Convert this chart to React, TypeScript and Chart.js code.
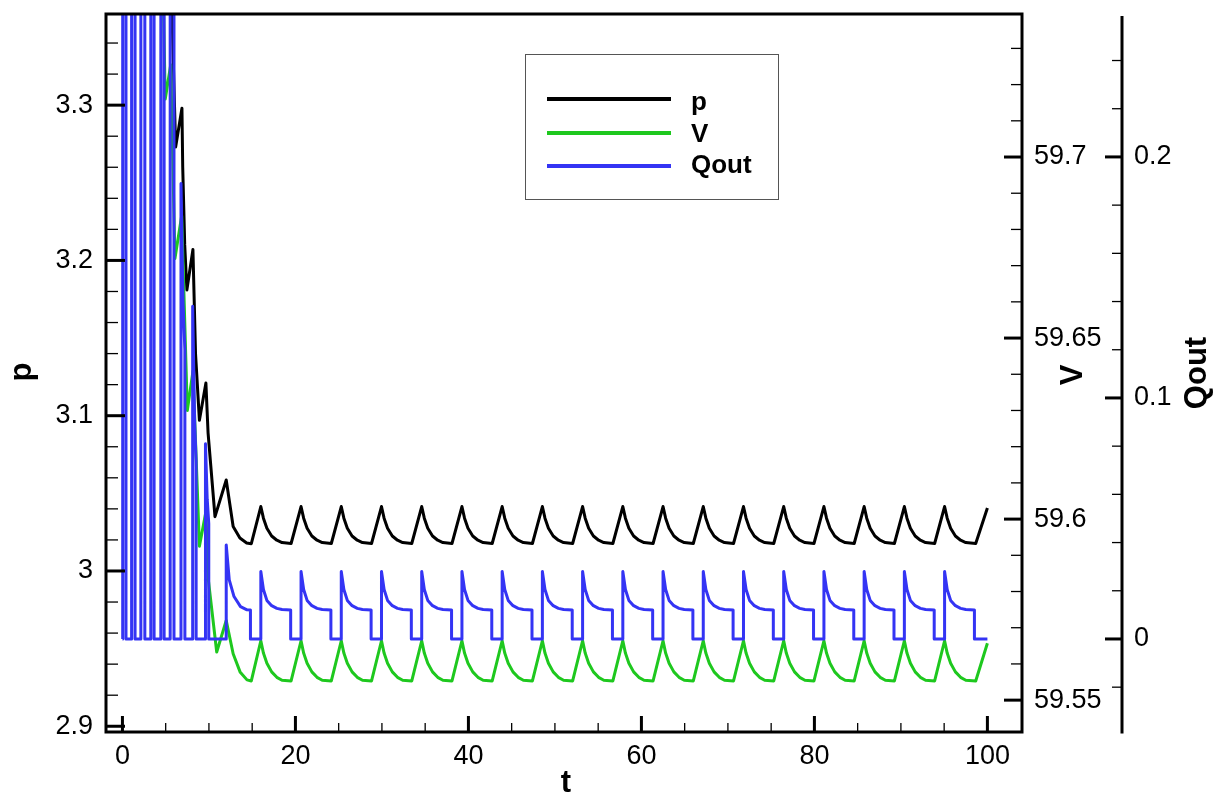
import React, { useEffect, useRef } from 'react';
import { Chart, registerables } from 'chart.js';

Chart.register(...registerables);

const FONT = '"Liberation Sans", Arial, Helvetica, sans-serif';

// ---------- axis ticks ----------
const tTicks = [0, 20, 40, 60, 80, 100];
const pTicks = [2.9, 3.0, 3.1, 3.2, 3.3];
const vTicks = [59.55, 59.6, 59.65, 59.7];
const qTicks = [0, 0.1, 0.2];
const tMinorStep = 5;
const pMinorStep = 0.02;
const vMinorStep = 0.01;
const qMinorStep = 0.02;

const seriesLabels = ['p', 'V', 'Qout'];

// ---------- start-up transient ----------
const tTransP = [0, 0.08, 0.45, 1.12, 1.55, 2.2, 2.65, 3.35, 3.75, 4.51, 4.95, 5.58, 6.15, 6.88, 6.97, 7.2, 7.45, 8.15, 8.45, 8.9, 9.65, 9.9, 10.7, 12.0, 12.8, 13.58, 14.36, 14.9];
const pTrans = [3.8, 3.84, 3.72, 3.75, 3.63, 3.66, 3.54, 3.57, 3.45, 3.48, 3.365, 3.39, 3.273, 3.298, 3.26, 3.21, 3.181, 3.207, 3.14, 3.097, 3.121, 3.089, 3.035, 3.0586, 3.0286, 3.0212, 3.018, 3.0176];

const tTransV = [0, 0.08, 0.45, 1.12, 1.55, 2.2, 2.65, 3.35, 3.75, 4.51, 4.95, 5.58, 6.07, 6.85, 7.5, 8.15, 8.9, 9.65, 9.92, 10.9, 12.0, 12.8, 13.6, 14.4, 14.9];
const vTrans = [59.94, 59.95, 59.895, 59.905, 59.85, 59.86, 59.805, 59.815, 59.76, 59.77, 59.716, 59.7255, 59.672, 59.6838, 59.63, 59.6408, 59.5925, 59.602, 59.5835, 59.5633, 59.572, 59.5628, 59.5578, 59.5556, 59.5553];

const tTransQ = [0, 0.03, 0.03, 0.41, 0.41, 1.06, 1.06, 1.46, 1.46, 2.13, 2.13, 2.59, 2.59, 3.28, 3.28, 3.66, 3.66, 4.44, 4.44, 4.82, 4.82, 5.52, 5.52, 5.96, 5.96, 6.77, 6.77, 7.0, 7.22, 7.22, 8.12, 8.12, 8.35, 8.52, 8.52, 9.6, 9.6, 9.8, 9.98, 9.98, 12.0, 12.0, 12.35, 12.9, 13.65, 14.4, 14.8, 14.8];
const qTrans = [0, 0, 0.95, 0.85, 0, 0, 0.85, 0.75, 0, 0, 0.75, 0.65, 0, 0, 0.6, 0.5, 0, 0, 0.45, 0.38, 0, 0, 0.33, 0.28, 0, 0, 0.189, 0.14, 0.12, 0, 0, 0.138, 0.09, 0.074, 0, 0, 0.081, 0.058, 0.048, 0, 0, 0.039, 0.0245, 0.0176, 0.0134, 0.0121, 0.012, 0];

// ---------- periodic regime ----------
const tCycPV = [
  16.0, 16.3, 16.7, 17.25, 17.85, 18.45, 19.5,
  20.65, 20.95, 21.35, 21.9, 22.5, 23.1, 24.15,
  25.3, 25.6, 26.0, 26.55, 27.15, 27.75, 28.8,
  29.95, 30.25, 30.65, 31.2, 31.8, 32.4, 33.45,
  34.6, 34.9, 35.3, 35.85, 36.45, 37.05, 38.1,
  39.25, 39.55, 39.95, 40.5, 41.1, 41.7, 42.75,
  43.9, 44.2, 44.6, 45.15, 45.75, 46.35, 47.4,
  48.55, 48.85, 49.25, 49.8, 50.4, 51.0, 52.05,
  53.2, 53.5, 53.9, 54.45, 55.05, 55.65, 56.7,
  57.85, 58.15, 58.55, 59.1, 59.7, 60.3, 61.35,
  62.5, 62.8, 63.2, 63.75, 64.35, 64.95, 66.0,
  67.15, 67.45, 67.85, 68.4, 69.0, 69.6, 70.65,
  71.8, 72.1, 72.5, 73.05, 73.65, 74.25, 75.3,
  76.45, 76.75, 77.15, 77.7, 78.3, 78.9, 79.95,
  81.1, 81.4, 81.8, 82.35, 82.95, 83.55, 84.6,
  85.75, 86.05, 86.45, 87.0, 87.6, 88.2, 89.25,
  90.4, 90.7, 91.1, 91.65, 92.25, 92.85, 93.9,
  95.05, 95.35, 95.75, 96.3, 96.9, 97.5, 98.65,
  100.0,
];
const pCyc = [
  3.0415, 3.034, 3.0275, 3.0225, 3.0198, 3.0183, 3.0177,
  3.0415, 3.034, 3.0275, 3.0225, 3.0198, 3.0183, 3.0177,
  3.0415, 3.034, 3.0275, 3.0225, 3.0198, 3.0183, 3.0177,
  3.0415, 3.034, 3.0275, 3.0225, 3.0198, 3.0183, 3.0177,
  3.0415, 3.034, 3.0275, 3.0225, 3.0198, 3.0183, 3.0177,
  3.0415, 3.034, 3.0275, 3.0225, 3.0198, 3.0183, 3.0177,
  3.0415, 3.034, 3.0275, 3.0225, 3.0198, 3.0183, 3.0177,
  3.0415, 3.034, 3.0275, 3.0225, 3.0198, 3.0183, 3.0177,
  3.0415, 3.034, 3.0275, 3.0225, 3.0198, 3.0183, 3.0177,
  3.0415, 3.034, 3.0275, 3.0225, 3.0198, 3.0183, 3.0177,
  3.0415, 3.034, 3.0275, 3.0225, 3.0198, 3.0183, 3.0177,
  3.0415, 3.034, 3.0275, 3.0225, 3.0198, 3.0183, 3.0177,
  3.0415, 3.034, 3.0275, 3.0225, 3.0198, 3.0183, 3.0177,
  3.0415, 3.034, 3.0275, 3.0225, 3.0198, 3.0183, 3.0177,
  3.0415, 3.034, 3.0275, 3.0225, 3.0198, 3.0183, 3.0177,
  3.0415, 3.034, 3.0275, 3.0225, 3.0198, 3.0183, 3.0177,
  3.0415, 3.034, 3.0275, 3.0225, 3.0198, 3.0183, 3.0177,
  3.0415, 3.034, 3.0275, 3.0225, 3.0198, 3.0183, 3.0177,
  3.0405,
];
const vCyc = [
  59.5664, 59.563, 59.5602, 59.5578, 59.5563, 59.5555, 59.5553,
  59.5664, 59.563, 59.5602, 59.5578, 59.5563, 59.5555, 59.5553,
  59.5664, 59.563, 59.5602, 59.5578, 59.5563, 59.5555, 59.5553,
  59.5664, 59.563, 59.5602, 59.5578, 59.5563, 59.5555, 59.5553,
  59.5664, 59.563, 59.5602, 59.5578, 59.5563, 59.5555, 59.5553,
  59.5664, 59.563, 59.5602, 59.5578, 59.5563, 59.5555, 59.5553,
  59.5664, 59.563, 59.5602, 59.5578, 59.5563, 59.5555, 59.5553,
  59.5664, 59.563, 59.5602, 59.5578, 59.5563, 59.5555, 59.5553,
  59.5664, 59.563, 59.5602, 59.5578, 59.5563, 59.5555, 59.5553,
  59.5664, 59.563, 59.5602, 59.5578, 59.5563, 59.5555, 59.5553,
  59.5664, 59.563, 59.5602, 59.5578, 59.5563, 59.5555, 59.5553,
  59.5664, 59.563, 59.5602, 59.5578, 59.5563, 59.5555, 59.5553,
  59.5664, 59.563, 59.5602, 59.5578, 59.5563, 59.5555, 59.5553,
  59.5664, 59.563, 59.5602, 59.5578, 59.5563, 59.5555, 59.5553,
  59.5664, 59.563, 59.5602, 59.5578, 59.5563, 59.5555, 59.5553,
  59.5664, 59.563, 59.5602, 59.5578, 59.5563, 59.5555, 59.5553,
  59.5664, 59.563, 59.5602, 59.5578, 59.5563, 59.5555, 59.5553,
  59.5664, 59.563, 59.5602, 59.5578, 59.5563, 59.5555, 59.5553,
  59.5657,
];
const tCycQ = [
  16.0, 16.0, 16.3, 16.7, 17.25, 17.85, 18.45, 19.45, 19.45,
  20.65, 20.65, 20.95, 21.35, 21.9, 22.5, 23.1, 24.1, 24.1,
  25.3, 25.3, 25.6, 26.0, 26.55, 27.15, 27.75, 28.75, 28.75,
  29.95, 29.95, 30.25, 30.65, 31.2, 31.8, 32.4, 33.4, 33.4,
  34.6, 34.6, 34.9, 35.3, 35.85, 36.45, 37.05, 38.05, 38.05,
  39.25, 39.25, 39.55, 39.95, 40.5, 41.1, 41.7, 42.7, 42.7,
  43.9, 43.9, 44.2, 44.6, 45.15, 45.75, 46.35, 47.35, 47.35,
  48.55, 48.55, 48.85, 49.25, 49.8, 50.4, 51.0, 52.0, 52.0,
  53.2, 53.2, 53.5, 53.9, 54.45, 55.05, 55.65, 56.65, 56.65,
  57.85, 57.85, 58.15, 58.55, 59.1, 59.7, 60.3, 61.3, 61.3,
  62.5, 62.5, 62.8, 63.2, 63.75, 64.35, 64.95, 65.95, 65.95,
  67.15, 67.15, 67.45, 67.85, 68.4, 69.0, 69.6, 70.6, 70.6,
  71.8, 71.8, 72.1, 72.5, 73.05, 73.65, 74.25, 75.25, 75.25,
  76.45, 76.45, 76.75, 77.15, 77.7, 78.3, 78.9, 79.9, 79.9,
  81.1, 81.1, 81.4, 81.8, 82.35, 82.95, 83.55, 84.55, 84.55,
  85.75, 85.75, 86.05, 86.45, 87.0, 87.6, 88.2, 89.2, 89.2,
  90.4, 90.4, 90.7, 91.1, 91.65, 92.25, 92.85, 93.85, 93.85,
  95.05, 95.05, 95.35, 95.75, 96.3, 96.9, 97.5, 98.5, 98.5,
  100.0,
];
const qCyc = [
  0, 0.028, 0.0205, 0.016, 0.0138, 0.0127, 0.0122, 0.012, 0,
  0, 0.028, 0.0205, 0.016, 0.0138, 0.0127, 0.0122, 0.012, 0,
  0, 0.028, 0.0205, 0.016, 0.0138, 0.0127, 0.0122, 0.012, 0,
  0, 0.028, 0.0205, 0.016, 0.0138, 0.0127, 0.0122, 0.012, 0,
  0, 0.028, 0.0205, 0.016, 0.0138, 0.0127, 0.0122, 0.012, 0,
  0, 0.028, 0.0205, 0.016, 0.0138, 0.0127, 0.0122, 0.012, 0,
  0, 0.028, 0.0205, 0.016, 0.0138, 0.0127, 0.0122, 0.012, 0,
  0, 0.028, 0.0205, 0.016, 0.0138, 0.0127, 0.0122, 0.012, 0,
  0, 0.028, 0.0205, 0.016, 0.0138, 0.0127, 0.0122, 0.012, 0,
  0, 0.028, 0.0205, 0.016, 0.0138, 0.0127, 0.0122, 0.012, 0,
  0, 0.028, 0.0205, 0.016, 0.0138, 0.0127, 0.0122, 0.012, 0,
  0, 0.028, 0.0205, 0.016, 0.0138, 0.0127, 0.0122, 0.012, 0,
  0, 0.028, 0.0205, 0.016, 0.0138, 0.0127, 0.0122, 0.012, 0,
  0, 0.028, 0.0205, 0.016, 0.0138, 0.0127, 0.0122, 0.012, 0,
  0, 0.028, 0.0205, 0.016, 0.0138, 0.0127, 0.0122, 0.012, 0,
  0, 0.028, 0.0205, 0.016, 0.0138, 0.0127, 0.0122, 0.012, 0,
  0, 0.028, 0.0205, 0.016, 0.0138, 0.0127, 0.0122, 0.012, 0,
  0, 0.028, 0.0205, 0.016, 0.0138, 0.0127, 0.0122, 0.012, 0,
  0,
];

function zip(xs: number[], ys: number[]) {
  const n = Math.min(xs.length, ys.length);
  const out: { x: number; y: number }[] = [];
  for (let i = 0; i < n; i++) out.push({ x: xs[i], y: ys[i] });
  return out;
}

const fmt = (v: number) => String(+Number(v).toFixed(4));

function minorValues(scale: any, step: number, majors: number[]) {
  const out: number[] = [];
  const k0 = Math.ceil(scale.min / step - 1e-6);
  const k1 = Math.floor(scale.max / step + 1e-6);
  for (let k = k0; k <= k1; k++) {
    const v = k * step;
    if (!majors.some((m) => Math.abs(m - v) < step / 10)) out.push(v);
  }
  return out;
}

const decor = {
  id: 'decor',
  afterDatasetsDraw(chart: any) {
    const { ctx, chartArea: a, scales } = chart;
    const sx = scales.x, sp = scales.p, sv = scales.v, sq = scales.q;
    ctx.save();
    ctx.strokeStyle = '#000';
    ctx.lineCap = 'butt';
    const hTick = (x0: number, dir: number, y: number, len: number, lw: number) => {
      ctx.lineWidth = lw;
      ctx.beginPath();
      ctx.moveTo(x0, y);
      ctx.lineTo(x0 + dir * len, y);
      ctx.stroke();
    };
    const vTick = (x: number, y0: number, len: number, lw: number) => {
      ctx.lineWidth = lw;
      ctx.beginPath();
      ctx.moveTo(x, y0);
      ctx.lineTo(x, y0 - len);
      ctx.stroke();
    };
    for (const v of pTicks) hTick(a.left, 1, sp.getPixelForValue(v), 19, 3);
    for (const v of minorValues(sp, pMinorStep, pTicks)) hTick(a.left, 1, sp.getPixelForValue(v), 12, 1.3);
    for (const v of vTicks) hTick(a.right, -1, sv.getPixelForValue(v), 18, 3);
    for (const v of minorValues(sv, vMinorStep, vTicks)) hTick(a.right, -1, sv.getPixelForValue(v), 11, 1.3);
    for (const v of qTicks) hTick(sq.left, -1, sq.getPixelForValue(v), 17, 3);
    for (const v of minorValues(sq, qMinorStep, qTicks)) hTick(sq.left, -1, sq.getPixelForValue(v), 10, 1.3);
    for (const v of tTicks) vTick(sx.getPixelForValue(v), a.bottom, 16, 3);
    for (const v of minorValues(sx, tMinorStep, tTicks)) vTick(sx.getPixelForValue(v), a.bottom, 9, 1.3);

    ctx.lineWidth = 3;
    ctx.strokeRect(a.left, a.top, a.right - a.left, a.bottom - a.top);
    ctx.beginPath();
    ctx.moveTo(sq.left, a.top + 2);
    ctx.lineTo(sq.left, a.bottom + 1.5);
    ctx.stroke();
    ctx.restore();
  },
  afterDraw(chart: any) {
    const { ctx } = chart;
    ctx.save();
    ctx.fillStyle = '#000';
    ctx.font = `bold 31px ${FONT}`;
    ctx.textAlign = 'center';
    ctx.textBaseline = 'alphabetic';
    ctx.fillText('t', 566, 792);
    const rotated = (text: string, x: number, y: number) => {
      ctx.save();
      ctx.translate(x, y);
      ctx.rotate(-Math.PI / 2);
      ctx.fillText(text, 0, 0);
      ctx.restore();
    };
    rotated('p', 31, 372);
    rotated('V', 1082, 375);
    rotated('Qout', 1206, 373);

    // legend box
    const lx = 525, ly = 54, lw = 253, lh = 145;
    ctx.fillStyle = '#fff';
    ctx.fillRect(lx, ly, lw, lh);
    ctx.strokeStyle = '#555';
    ctx.lineWidth = 1;
    ctx.strokeRect(lx + 0.5, ly + 0.5, lw, lh);
    const lineY = [99, 133, 166];
    const textY = [110, 142, 173];
    chart.data.datasets.forEach((ds: any, i: number) => {
      ctx.strokeStyle = ds.borderColor;
      ctx.lineWidth = 4;
      ctx.beginPath();
      ctx.moveTo(547, lineY[i]);
      ctx.lineTo(671, lineY[i]);
      ctx.stroke();
      ctx.fillStyle = '#000';
      ctx.font = `bold 26px ${FONT}`;
      ctx.textAlign = 'left';
      ctx.textBaseline = 'alphabetic';
      ctx.fillText(ds.label, 691, textY[i]);
    });
    ctx.restore();
  },
};

const tickFont = { family: FONT, size: 27 };

const noPad = (s: any) => {
  s.paddingTop = 0;
  s.paddingBottom = 0;
  s.paddingLeft = 0;
  s.paddingRight = 0;
};

function yScale(position: string, min: number, max: number, width: number, ticks: number[], padding: number, weight: number) {
  return {
    type: 'linear',
    position,
    weight,
    min,
    max,
    afterFit: (s: any) => { s.width = width; noPad(s); },
    afterBuildTicks: (s: any) => { s.ticks = ticks.map((v) => ({ value: v })); },
    grid: { display: false, drawTicks: false },
    border: { display: false },
    ticks: { padding, font: tickFont, color: '#000', autoSkip: false, callback: (v: any) => fmt(v) },
  };
}

export default function App() {
  const ref = useRef<HTMLCanvasElement>(null);
  useEffect(() => {
    if (!ref.current) return;
    const common = { pointRadius: 0, borderWidth: 3, fill: false, tension: 0, borderJoinStyle: 'round' };
    const chart = new Chart(ref.current, {
      type: 'line',
      data: {
        datasets: [
          { ...common, label: seriesLabels[0], data: zip([...tTransP, ...tCycPV], [...pTrans, ...pCyc]), yAxisID: 'p', borderColor: '#000000', order: 3 },
          { ...common, label: seriesLabels[1], data: zip([...tTransV, ...tCycPV], [...vTrans, ...vCyc]), yAxisID: 'v', borderColor: '#1ec81e', order: 2 },
          { ...common, label: seriesLabels[2], data: zip([...tTransQ, ...tCycQ], [...qTrans, ...qCyc]), yAxisID: 'q', borderColor: '#3434f4', order: 1 },
        ],
      } as any,
      options: {
        responsive: false,
        animation: false,
        events: [],
        layout: { padding: { top: 14, left: 0, right: 0, bottom: 0 } },
        plugins: { legend: { display: false }, tooltip: { enabled: false } },
        scales: {
          x: {
            type: 'linear',
            position: 'bottom',
            min: -1.9,
            max: 104,
            afterFit: (s: any) => { s.height = 62; noPad(s); },
            afterBuildTicks: (s: any) => { s.ticks = tTicks.map((v) => ({ value: v })); },
            grid: { display: false, drawTicks: false },
            border: { display: false },
            ticks: { padding: 8, font: tickFont, color: '#000', maxRotation: 0, autoSkip: false, callback: (v: any) => fmt(v) },
          },
          p: yScale('left', 2.8963, 3.3587, 106, pTicks, 13, 0),
          v: yScale('right', 59.5412, 59.7395, 100, vTicks, 12, 0),
          q: yScale('right', -0.0386, 0.2593, 93, qTicks, 12, 1),
        },
      } as any,
      plugins: [decor],
    });
    return () => chart.destroy();
  }, []);
  return (
    <canvas
      ref={ref}
      width={1215}
      height={794}
      style={{ position: 'fixed', left: 0, top: 0, width: 1215, height: 794, display: 'block', background: '#fff' }}
    />
  );
}
